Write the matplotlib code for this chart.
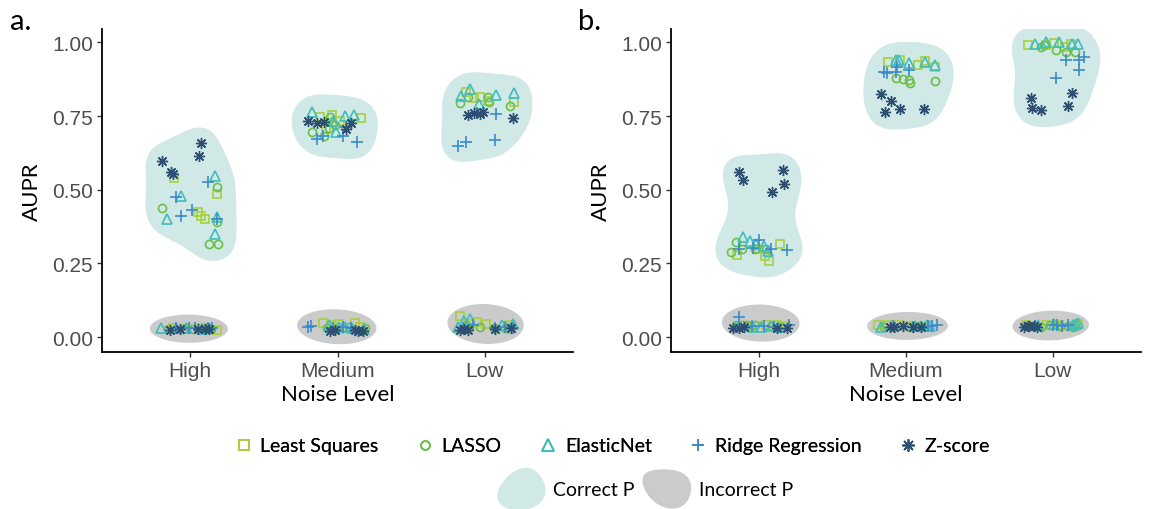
import numpy as np
import matplotlib
matplotlib.use("Agg")
import matplotlib.pyplot as plt
from matplotlib.lines import Line2D
from matplotlib.patches import Patch, Polygon
from matplotlib.legend_handler import HandlerBase
import contourpy

# ---------------- data ----------------
methods = ["Least Squares", "LASSO", "ElasticNet", "Ridge Regression", "Z-score"]
noise_levels = ["High", "Medium", "Low"]
y_ticks = [0.0, 0.25, 0.50, 0.75, 1.00]
y_tick_labels = ["0.00", "0.25", "0.50", "0.75", "1.00"]

# each noise level: 10 runs -> first 5 = Correct P, last 5 = Incorrect P
# ---- panel a ----
a_ls = [[0.54, 0.486, 0.424, 0.41, 0.40, 0.03, 0.03, 0.025, 0.028, 0.03],
        [0.746, 0.754, 0.743, 0.706, 0.735, 0.047, 0.045, 0.047, 0.04, 0.035],
        [0.833, 0.814, 0.797, 0.81, 0.80, 0.072, 0.05, 0.045, 0.04, 0.045]]
a_ls_jit = [[-0.11, 0.18, 0.05, 0.07, 0.10, -0.12, 0.11, 0.18, -0.02, 0.06],
            [-0.12, -0.04, 0.16, -0.08, 0.02, -0.10, 0.01, 0.12, -0.04, 0.15],
            [-0.13, -0.03, 0.20, -0.07, 0.02, -0.17, -0.05, 0.01, 0.18, -0.10]]
a_lasso = [[0.509, 0.438, 0.39, 0.316, 0.316, 0.028, 0.028, 0.028, 0.028, 0.028],
           [0.746, 0.697, 0.684, 0.709, 0.72, 0.03, 0.032, 0.028, 0.035, 0.03],
           [0.795, 0.814, 0.814, 0.799, 0.786, 0.035, 0.03, 0.04, 0.032, 0.03]]
a_lasso_jit = [[0.18, -0.19, 0.18, 0.13, 0.19, -0.15, -0.05, 0.02, 0.09, 0.14],
               [-0.05, -0.17, -0.09, -0.06, -0.02, -0.07, 0.03, -0.01, 0.08, 0.19],
               [-0.17, -0.11, 0.02, 0.03, 0.17, -0.03, 0.14, -0.13, 0.06, 0.16]]
a_en = [[0.547, 0.479, 0.401, 0.407, 0.350, 0.032, 0.032, 0.03, 0.03, 0.028],
        [0.765, 0.735, 0.697, 0.749, 0.754, 0.035, 0.04, 0.03, 0.033, 0.028],
        [0.819, 0.842, 0.791, 0.822, 0.829, 0.055, 0.06, 0.04, 0.045, 0.035]]
a_en_jit = [[0.17, -0.06, -0.16, 0.18, 0.17, -0.20, -0.03, 0.12, -0.10, 0.08],
            [-0.17, -0.03, -0.01, 0.05, 0.11, 0.01, -0.06, 0.10, 0.05, 0.18],
            [-0.16, -0.10, -0.04, 0.08, 0.20, -0.14, -0.10, 0.12, 0.19, -0.18]]
a_ridge = [[0.526, 0.475, 0.431, 0.41, 0.40, 0.03, 0.03, 0.03, 0.03, 0.03],
           [0.672, 0.684, 0.684, 0.661, 0.712, 0.035, 0.036, 0.033, 0.03, 0.03],
           [0.757, 0.650, 0.663, 0.670, 0.76, 0.03, 0.035, 0.03, 0.04, 0.03]]
a_ridge_jit = [[0.12, -0.10, 0.01, -0.06, 0.18, 0.15, -0.10, 0.03, 0.12, -0.01],
               [-0.14, -0.10, 0.04, 0.13, 0.06, -0.20, -0.18, 0.04, 0.09, -0.03],
               [0.08, -0.18, -0.13, 0.07, -0.05, 0.07, 0.14, 0.19, -0.08, -0.15]]
a_z = [[0.659, 0.615, 0.598, 0.560, 0.553, 0.025, 0.027, 0.028, 0.026, 0.027],
       [0.735, 0.725, 0.73, 0.705, 0.725, 0.021, 0.025, 0.02, 0.022, 0.024],
       [0.754, 0.761, 0.757, 0.765, 0.743, 0.025, 0.028, 0.025, 0.027, 0.03]]
a_z_jit = [[0.07, 0.06, -0.19, -0.13, -0.12, -0.14, -0.07, 0.05, 0.10, 0.13],
           [-0.20, -0.14, -0.09, 0.06, 0.09, -0.05, -0.02, 0.14, 0.17, 0.12],
           [-0.11, -0.07, -0.03, -0.01, 0.19, -0.17, -0.14, -0.11, 0.07, 0.18]]

# ---- panel b ----
b_ls = [[0.316, 0.278, 0.274, 0.259, 0.299, 0.04, 0.035, 0.04, 0.038, 0.036],
        [0.933, 0.925, 0.936, 0.916, 0.939, 0.04, 0.04, 0.038, 0.035, 0.04],
        [0.992, 0.999, 0.995, 0.99, 0.985, 0.04, 0.042, 0.038, 0.045, 0.04]]
b_ls_jit = [[0.14, -0.15, 0.04, 0.07, 0.00, 0.05, -0.06, 0.12, -0.15, 0.18],
            [-0.12, 0.08, 0.13, 0.20, -0.04, -0.19, -0.12, 0.02, 0.08, -0.05],
            [-0.17, 0.01, 0.12, -0.05, 0.08, -0.18, 0.04, 0.15, 0.17, -0.05]]
b_lasso = [[0.324, 0.290, 0.299, 0.299, 0.30, 0.04, 0.04, 0.038, 0.035, 0.04],
           [0.879, 0.876, 0.873, 0.861, 0.868, 0.035, 0.038, 0.035, 0.036, 0.035],
           [0.984, 0.976, 0.969, 0.967, 0.99, 0.035, 0.04, 0.038, 0.035, 0.036]]
b_lasso_jit = [[-0.16, -0.19, -0.03, -0.12, 0.05, -0.08, -0.03, 0.08, 0.15, -0.12],
               [-0.07, -0.02, 0.02, 0.03, 0.20, 0.02, 0.09, -0.15, 0.13, -0.08],
               [-0.08, 0.02, 0.09, 0.15, -0.06, -0.08, -0.02, 0.10, 0.14, 0.05]]
b_en = [[0.339, 0.325, 0.316, 0.308, 0.293, 0.035, 0.036, 0.035, 0.038, 0.034],
        [0.939, 0.94, 0.929, 0.933, 0.925, 0.04, 0.038, 0.035, 0.036, 0.038],
        [0.995, 1.0, 1.0, 0.995, 0.995, 0.045, 0.04, 0.045, 0.04, 0.048]]
b_en_jit = [[-0.11, -0.06, -0.02, 0.03, 0.06, -0.04, 0.08, 0.13, -0.16, 0.01],
            [-0.07, -0.05, 0.02, 0.13, 0.20, 0.14, 0.10, -0.17, 0.06, 0.16],
            [-0.12, -0.05, 0.04, 0.13, 0.17, 0.01, 0.14, 0.16, -0.10, 0.17]]
b_ridge = [[0.330, 0.296, 0.299, 0.301, 0.30, 0.068, 0.04, 0.038, 0.035, 0.036],
           [0.899, 0.895, 0.918, 0.907, 0.90, 0.038, 0.04, 0.038, 0.036, 0.035],
           [0.939, 0.939, 0.950, 0.908, 0.879, 0.04, 0.038, 0.04, 0.036, 0.04]]
b_ridge_jit = [[0.00, 0.19, -0.14, -0.04, 0.08, -0.14, 0.20, -0.05, 0.10, 0.03],
               [-0.15, -0.13, -0.06, 0.02, -0.07, 0.18, 0.21, 0.15, -0.09, 0.05],
               [0.09, 0.18, 0.21, 0.18, 0.02, 0.03, 0.06, 0.00, -0.12, 0.10]]
b_z = [[0.559, 0.534, 0.568, 0.520, 0.494, 0.031, 0.033, 0.03, 0.032, 0.031],
       [0.825, 0.802, 0.763, 0.774, 0.774, 0.035, 0.036, 0.035, 0.035, 0.034],
       [0.811, 0.777, 0.772, 0.829, 0.786, 0.035, 0.038, 0.036, 0.035, 0.037]]
b_z_jit = [[-0.14, -0.11, 0.16, 0.17, 0.09, -0.18, -0.10, 0.12, 0.19, -0.14],
           [-0.17, -0.10, -0.14, -0.04, 0.12, -0.11, -0.02, 0.05, 0.10, -0.08],
           [-0.15, -0.14, -0.08, 0.13, 0.10, -0.20, -0.16, -0.13, -0.11, -0.17]]

# ---------------- style ----------------
colors = ["#a8cf3c", "#6cbf47", "#3fbdbd", "#3c8bc8", "#2d4f72"]
markers = ["s", "o", "^", "+", (8, 2, 0)]
msizes = [6.3, 5.8, 7.4, 8.2, 8.0]
mews = [1.2, 1.2, 1.2, 1.2, 1.0]
fill_correct = "#d0e8e6"
fill_incorrect = "#cbcbcc"
TICK_FONT = "Liberation Sans"
TEXT_FONT = "Lato"

W, H = 1152, 510
fig = plt.figure(figsize=(W / 100, H / 100), dpi=100)


def add_ax(l, r, t, b):
    return fig.add_axes([l / W, 1 - b / H, (r - l) / W, (b - t) / H])


YMIN, YMAX = -0.0509, 1.0458


def to_data(ax, P):
    return ax.transData.inverted().transform(P)


def smooth_closed(poly, sigma=15.0):
    poly = np.asarray(poly, float)
    if np.allclose(poly[0], poly[-1]):
        poly = poly[:-1]
    seg = np.sqrt((np.diff(np.vstack([poly, poly[:1]]), axis=0) ** 2).sum(1))
    s = np.concatenate([[0], np.cumsum(seg)])
    L = s[-1]
    n = int(max(L, 60))
    u = np.linspace(0, L, n, endpoint=False)
    closed = np.vstack([poly, poly[:1]])
    x = np.interp(u, s, closed[:, 0])
    y = np.interp(u, s, closed[:, 1])
    k = int(3 * sigma)
    ker = np.exp(-0.5 * (np.arange(-k, k + 1) * (L / n) / sigma) ** 2)
    ker /= ker.sum()
    xs = np.convolve(np.concatenate([x[-k:], x, x[:k]]), ker, mode="valid")
    ys = np.convolve(np.concatenate([y[-k:], y, y[:k]]), ker, mode="valid")
    return np.column_stack([xs, ys])


def correct_blob(ax, xs, ys, margin=20.0, r_close=46.0, step=1.0):
    P = ax.transData.transform(np.column_stack([xs, ys]))
    lo = P.min(0) - r_close - 6
    hi = P.max(0) + r_close + 6
    gx = np.arange(lo[0], hi[0], step)
    gy = np.arange(lo[1], hi[1], step)
    GX, GY = np.meshgrid(gx, gy)
    G = np.column_stack([GX.ravel(), GY.ravel()])
    d = np.sqrt(((G[:, None, :] - P[None, :, :]) ** 2).sum(-1)).min(1)
    D = d.reshape(GX.shape)
    lines = contourpy.contour_generator(gx, gy, D).lines(r_close)
    B = np.vstack(lines)
    inside = d < r_close
    g = r_close - d
    idx = np.where(inside)[0]
    out = np.empty(len(idx))
    for s in range(0, len(idx), 4000):
        ii = idx[s:s + 4000]
        out[s:s + len(ii)] = np.sqrt(((G[ii][:, None, :] - B[None, :, :]) ** 2).sum(-1)).min(1)
    g[idx] = out
    g = g.reshape(GX.shape)
    lines2 = contourpy.contour_generator(gx, gy, g).lines(r_close - margin)
    poly = smooth_closed(max(lines2, key=len))
    ax.add_patch(Polygon(to_data(ax, poly), closed=True, facecolor=fill_correct,
                         edgecolor="none", zorder=1))


def incorrect_blob(ax, xs, ys, pad_a=11.0, pad_b=13.0):
    P = ax.transData.transform(np.column_stack([xs, ys]))
    slope = np.polyfit(P[:, 0], P[:, 1], 1)[0]
    th = np.arctan(slope)
    c0 = (P.min(0) + P.max(0)) / 2
    R = np.array([[np.cos(th), np.sin(th)], [-np.sin(th), np.cos(th)]])
    Q = (P - c0) @ R.T
    cq = (Q.min(0) + Q.max(0)) / 2
    a = (Q[:, 0].max() - Q[:, 0].min()) / 2 + pad_a
    b = (Q[:, 1].max() - Q[:, 1].min()) / 2 + pad_b
    t = np.linspace(0, 2 * np.pi, 200)
    E = np.column_stack([cq[0] + a * np.cos(t), cq[1] + b * np.sin(t)])
    E = E @ R + c0
    ax.add_patch(Polygon(to_data(ax, E), closed=True, facecolor=fill_incorrect,
                         edgecolor="none", zorder=1))


def draw_panel(ax, values, jitters):
    ax.set_xlim(-0.6, 2.6)
    ax.set_ylim(YMIN, YMAX)
    for i in range(len(noise_levels)):
        xc = np.concatenate([i + np.array(j[i][:5]) for j in jitters])
        yc = np.concatenate([np.array(v[i][:5]) for v in values])
        correct_blob(ax, xc, yc)
        xi = np.concatenate([i + np.array(j[i][5:]) for j in jitters])
        yi = np.concatenate([np.array(v[i][5:]) for v in values])
        incorrect_blob(ax, xi, yi)
    for m in range(len(methods)):
        for i in range(len(noise_levels)):
            ax.plot(i + np.array(jitters[m][i]), values[m][i], ls="none",
                    marker=markers[m], ms=msizes[m], mfc="none", mec=colors[m],
                    mew=mews[m], zorder=3 + m * 0.1)
    ax.set_xticks(range(len(noise_levels)))
    ax.set_xticklabels(noise_levels)
    ax.set_yticks(y_ticks)
    ax.set_yticklabels(y_tick_labels)
    for s in ["top", "right"]:
        ax.spines[s].set_visible(False)
    for s in ["left", "bottom"]:
        ax.spines[s].set_linewidth(1.3)
        ax.spines[s].set_color("black")
    ax.tick_params(length=3.5, width=1.0, color="#333333", labelcolor="#4d4d4d",
                   labelsize=15, pad=3)
    for lab in ax.get_xticklabels() + ax.get_yticklabels():
        lab.set_fontfamily(TICK_FONT)
    ax.set_xlabel("Noise Level", fontsize=16, fontfamily=TEXT_FONT, labelpad=3)
    ax.set_ylabel("AUPR", fontsize=16, fontfamily=TEXT_FONT, labelpad=7)


axA = add_ax(102, 573, 30, 353)
axB = add_ax(671, 1141, 30, 353)
draw_panel(axA, [a_ls, a_lasso, a_en, a_ridge, a_z],
           [a_ls_jit, a_lasso_jit, a_en_jit, a_ridge_jit, a_z_jit])
draw_panel(axB, [b_ls, b_lasso, b_en, b_ridge, b_z],
           [b_ls_jit, b_lasso_jit, b_en_jit, b_ridge_jit, b_z_jit])

fig.text(10 / W, 1 - 22 / H, "a.", fontsize=21, fontfamily=TEXT_FONT, va="center")
fig.text(578 / W, 1 - 22 / H, "b.", fontsize=21, fontfamily=TEXT_FONT, va="center")

# ---------------- legends ----------------
handles = [Line2D([], [], ls="none", marker=markers[m], ms=msizes[m] * 1.1, mfc="none",
                  mec=colors[m], mew=mews[m] + 0.1) for m in range(len(methods))]
leg1 = fig.legend(handles, methods, loc="center", bbox_to_anchor=(612 / W, 1 - 447 / H),
                  ncol=5, frameon=False, prop={"family": TEXT_FONT, "size": 14},
                  handlelength=1.0, handletextpad=0.35, columnspacing=1.9)
fig.add_artist(leg1)


class HandlerBlob(HandlerBase):
    def __init__(self, kind):
        super().__init__()
        self.kind = kind

    def create_artists(self, legend, orig_handle, xdescent, ydescent, width, height,
                       fontsize, trans):
        t = np.linspace(0, 2 * np.pi, 120)
        cx = -xdescent + width / 2
        cy = -ydescent + height / 2
        if self.kind == "egg":
            x = 0.5 * width * np.cos(t) * (1 - 0.22 * np.sin(t))
            y = 0.5 * height * np.sin(t)
            x = x + 0.08 * width * np.sin(t)
        else:
            x = 0.5 * width * np.cos(t) * (1 + 0.25 * np.sin(t))
            y = 0.5 * height * np.sin(t) * (1 + 0.08 * np.cos(2 * t))
            x = x - 0.1 * width * np.sin(t)
        p = Polygon(np.column_stack([cx + x, cy + y]), closed=True,
                    facecolor=orig_handle.get_facecolor(), edgecolor="none", transform=trans)
        return [p]


h_c = Patch(facecolor=fill_correct)
h_i = Patch(facecolor=fill_incorrect)
fig.legend([h_c, h_i], ["Correct P", "Incorrect P"], loc="center",
           bbox_to_anchor=(646 / W, 1 - 490 / H), ncol=2, frameon=False,
           prop={"family": TEXT_FONT, "size": 14}, handlelength=2.4, handleheight=3.0,
           handletextpad=0.4, columnspacing=0.5,
           handler_map={h_c: HandlerBlob("egg"), h_i: HandlerBlob("drop")})

fig.savefig("out.png", dpi=100)
